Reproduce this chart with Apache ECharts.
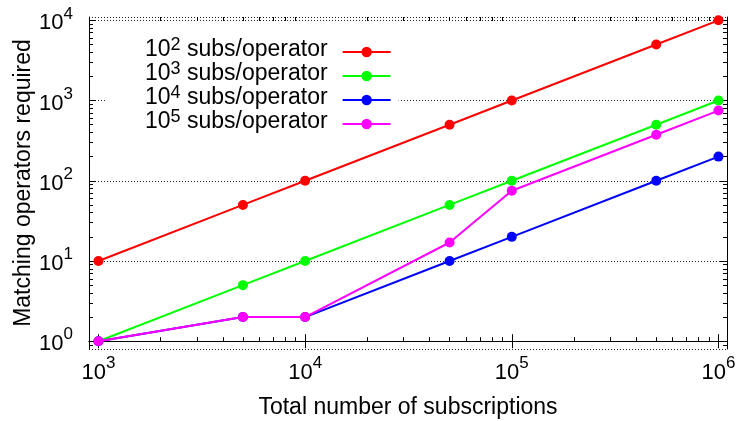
<!DOCTYPE html>
<html>
<head>
<meta charset="utf-8">
<script src="https://cdn.jsdelivr.net/npm/echarts@6/dist/echarts.min.js"></script>
<style>
  html, body { margin: 0; padding: 0; background: #fff; }
  #chart { width: 739px; height: 421px; }
</style>
</head>
<body>
<div id="chart"></div>
<script>
// Total number of subscriptions (x) and matching operators required (y)
const subscriptions = [1e3, 5e3, 1e4, 5e4, 1e5, 5e5, 1e6];
const seriesNames = ['10^2 subs/operator', '10^3 subs/operator', '10^4 subs/operator', '10^5 subs/operator'];
const ops1e2 = [10, 50, 100, 500, 1000, 5000, 10000];
const ops1e3 = [1, 5, 10, 50, 100, 500, 1000];
const ops1e4 = [1, 2, 2, 10, 20, 100, 200];
const ops1e5 = [1, 2, 2, 17, 75, 375, 750];
const xMajorTicks = [1e3, 1e4, 1e5, 1e6];
const yMajorTicks = [1, 10, 100, 1000, 10000];
const seriesColors = ['#ff0000', '#00ff00', '#0000ff', '#ff00ff'];

const X_MIN = 900, X_MAX = 1.1e6;
const Y_MIN = 0.8, Y_MAX = 11000;
const FONT = '"Liberation Sans", Arial, Helvetica, sans-serif';

// minor ticks at 2..9 of each decade, in log10 units
function minorTicksLog(majors, lo, hi) {
  const out = [];
  const decades = [majors[0] / 10].concat(majors);
  decades.forEach(d => {
    for (let k = 2; k <= 9; k++) {
      const v = d * k;
      if (v > lo && v < hi) out.push(Math.log10(v));
    }
  });
  return out;
}
const xMinorLog = minorTicksLog(xMajorTicks, X_MIN, X_MAX);
const yMinorLog = minorTicksLog(yMajorTicks, Y_MIN, Y_MAX);
const xMajorLog = xMajorTicks.map(Math.log10);
const yMajorLog = yMajorTicks.map(Math.log10);

function powerLabel(v) {
  const e = Math.round(Math.log10(v));
  return '{b|10}{s|' + e + '}';
}
// superscript raised through bottom padding (tokens sit on a common bottom)
const tickRich = {
  b: { fontSize: 22, lineHeight: 22, verticalAlign: 'bottom', fontFamily: FONT, color: '#000' },
  s: { fontSize: 17, lineHeight: 17, padding: [0, 0, 12, 0], verticalAlign: 'bottom', fontFamily: FONT, color: '#000' }
};
const legendRich = {
  b: { fontSize: 23, lineHeight: 18, verticalAlign: 'bottom', fontFamily: FONT, color: '#000' },
  s: { fontSize: 18, lineHeight: 14, padding: [0, 0, 7, 0], verticalAlign: 'bottom', fontFamily: FONT, color: '#000' },
  t: { fontSize: 23, lineHeight: 18, padding: [0, 10, 0, 0], verticalAlign: 'bottom', fontFamily: FONT, color: '#000' }
};

const frameLine = { show: true, lineStyle: { color: '#000', width: 1 } };
const blankAxis = {
  axisLine: { show: false },
  axisTick: { show: false },
  axisLabel: { show: false },
  splitLine: { show: false },
  minorTick: { show: false },
  minorSplitLine: { show: false }
};
function logAxis(position, min, max, opts) {
  return Object.assign({ type: 'log', logBase: 10, position: position, min: min, max: max }, blankAxis, opts);
}
// helper axis in log10 units carrying only tick marks
function tickAxis(position, min, max, values, len) {
  return Object.assign({ type: 'value', position: position, min: Math.log10(min), max: Math.log10(max) }, blankAxis, {
    axisTick: { show: true, inside: true, length: len, customValues: values, lineStyle: { color: '#000', width: 1 } }
  });
}

const seriesValues = [ops1e2, ops1e3, ops1e4, ops1e5];

const option = {
  animation: false,
  backgroundColor: '#fff',
  grid: { left: 89, right: 12, top: 17, bottom: 72, outerBoundsMode: 'none', containLabel: false },
  legend: {
    orient: 'vertical',
    left: 106, top: 32,
    align: 'right',
    itemWidth: 48, itemHeight: 13, itemGap: -1,
    padding: [4, 7, 4, 39],
    backgroundColor: '#fff',
    data: seriesNames,
    formatter: function (name) {
      const m = name.match(/^10\^(\d+) (.*)$/);
      return '{b|10}{s|' + m[1] + '}{t| ' + m[2] + '}';
    },
    textStyle: { rich: legendRich }
  },
  xAxis: [
    logAxis('bottom', X_MIN, X_MAX, {
      axisLine: frameLine,
      axisLabel: { show: true, customValues: xMajorTicks, margin: 13, formatter: powerLabel, rich: tickRich },
      name: 'Total number of subscriptions',
      nameLocation: 'middle', nameGap: 47, nameMoveOverlap: false,
      nameTextStyle: { fontSize: 23, fontFamily: FONT, color: '#000' }
    }),
    tickAxis('bottom', X_MIN, X_MAX, xMajorLog, 7),
    tickAxis('bottom', X_MIN, X_MAX, xMinorLog, 4),
    Object.assign(tickAxis('top', X_MIN, X_MAX, xMajorLog, 7), { axisLine: frameLine }),
    tickAxis('top', X_MIN, X_MAX, xMinorLog, 4)
  ],
  yAxis: [
    logAxis('left', Y_MIN, Y_MAX, {
      axisLine: frameLine,
      axisLabel: { show: true, customValues: yMajorTicks, margin: 16, padding: [6, 0, 0, 0], formatter: powerLabel, rich: tickRich },
      splitLine: { show: true, lineStyle: { color: '#222', width: 1, type: [1, 2] } },
      name: 'Matching operators required',
      nameLocation: 'middle', nameGap: 54, nameRotate: 90, nameMoveOverlap: false,
      nameTextStyle: { fontSize: 23, fontFamily: FONT, color: '#000' }
    }),
    tickAxis('left', Y_MIN, Y_MAX, yMajorLog, 7),
    tickAxis('left', Y_MIN, Y_MAX, yMinorLog, 4),
    Object.assign(tickAxis('right', Y_MIN, Y_MAX, yMajorLog, 7), { axisLine: frameLine }),
    tickAxis('right', Y_MIN, Y_MAX, yMinorLog, 4)
  ],
  series: seriesNames.map(function (name, i) {
    return {
      name: name,
      type: 'line',
      xAxisIndex: 0, yAxisIndex: 0,
      data: subscriptions.map(function (x, j) { return [x, seriesValues[i][j]]; }),
      symbol: 'circle',
      symbolSize: 10,
      color: seriesColors[i],
      itemStyle: { color: seriesColors[i] },
      lineStyle: { color: seriesColors[i], width: 2 },
      z: 2 + i
    };
  })
};

const chart = echarts.init(document.getElementById('chart'), null, { renderer: 'canvas' });
chart.setOption(option);
</script>
</body>
</html>
